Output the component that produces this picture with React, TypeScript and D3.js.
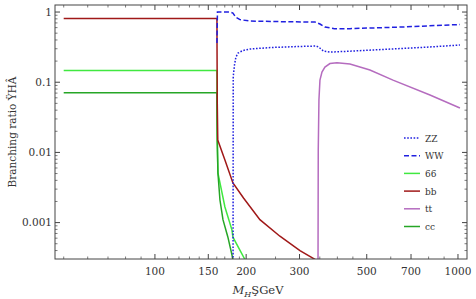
import React from 'react'
import * as d3 from 'd3'

// Higgs mass (GeV) and branching ratio pairs
const zzMass = [181, 181.3, 183, 185, 188, 195, 206, 240, 300, 340, 347, 360, 380, 450, 600, 800, 1015]
const zzBr = [0.0001, 0.12, 0.176, 0.228, 0.26, 0.283, 0.297, 0.312, 0.323, 0.328, 0.317, 0.278, 0.269, 0.278, 0.297, 0.317, 0.339]

const wwMass = [160.2, 160.8, 176.8, 180.9, 184.6, 190.8, 205.9, 258.5, 337.4, 350.4, 363.9, 391, 440, 643, 1015]
const wwBr = [0.362, 1.0, 1.0, 0.968, 0.85, 0.78, 0.744, 0.73, 0.72, 0.675, 0.61, 0.58, 0.58, 0.61, 0.664]

const ggMass = [50, 160.2, 160.3, 160.8, 161.4, 170.2, 179.5, 180.9, 198, 205]
const ggBr = [0.147, 0.147, 0.03, 0.012, 0.0051, 0.00167, 0.00079, 0.00062, 0.0003, 0.00025]

const bbMass = [50, 160.2, 160.3, 160.6, 161.2, 170.2, 180.9, 196, 222, 258.5, 301, 337, 345]
const bbBr = [0.81, 0.81, 0.3, 0.05, 0.015, 0.0078, 0.00367, 0.00224, 0.0011, 0.00064, 0.0004, 0.0003, 0.00025]

const ttMass = [345.1, 345.9, 347.7, 350.4, 355.8, 363.9, 378, 398.7, 440.1, 512.3, 610.3, 808.4, 1015]
const ttBr = [0.0001, 0.0108, 0.0558, 0.107, 0.1397, 0.1646, 0.1847, 0.1896, 0.1816, 0.149, 0.107, 0.0657, 0.0429]

const ccMass = [50, 160.2, 160.5, 161.4, 163.9, 167.7, 174.1, 180.9, 182]
const ccBr = [0.0709, 0.0709, 0.015, 0.0051, 0.0021, 0.0011, 0.00062, 0.0003, 0.00027]

const xTicks = [100, 150, 200, 300, 500, 700, 1000]
const xTickLabels = ['100', '150', '200', '300', '500', '700', '1000']
const xMinor = [50, 60, 70, 80, 90, 110, 120, 130, 140, 160, 170, 180, 190, 250, 350, 400, 450, 600, 800, 900]
const yTicks = [1, 0.1, 0.01, 0.001]
const yTickLabels = ['1', '0.1', '0.01', '0.001']

const seriesNames = ['ZZ', 'WW', '66', 'bb', 'tt', 'cc']
const seriesColors = ['#2020e0', '#2020e0', '#40e840', '#a01818', '#b56cbf', '#26a626']
const seriesDash = ['1.6,1.6', '5,2.5', '', '', '', '']

const W = 476
const H = 299
const left = 55, right = 467, top = 5, bottom = 259

export default function App() {
  const x = d3.scaleLog().domain([46.8, 1071]).range([left, right])
  const y = d3.scaleLog().domain([3.03e-4, 1.26]).range([bottom, top])

  const line = d3.line<[number, number]>()
    .x(d => x(d[0]))
    .y(d => y(d[1]))

  const series = [
    [zzMass, zzBr],
    [wwMass, wwBr],
    [ggMass, ggBr],
    [bbMass, bbBr],
    [ttMass, ttBr],
    [ccMass, ccBr],
  ].map(([m, b]) => m.map((v, i) => [v, b[i]] as [number, number]))

  // green and red first, the blue curves and tt over them
  const drawOrder = [2, 5, 3, 0, 1, 4]

  const yMinor: number[] = []
  for (let e = -4; e <= 0; e++) {
    for (let k = 2; k <= 9; k++) {
      const v = k * Math.pow(10, e)
      if (v > 3.03e-4 && v < 1.26) yMinor.push(v)
    }
  }

  const font = 'DejaVu Serif'
  const axisCol = '#444'

  return (
    <svg width={W} height={H} style={{ position: 'absolute', left: 0, top: 0, background: '#fff' }}>
      <defs>
        <clipPath id="plot">
          <rect x={left} y={top} width={right - left} height={bottom - top} />
        </clipPath>
      </defs>

      <g clipPath="url(#plot)">
        {drawOrder.map(i => (
          <path key={i} d={line(series[i]) || ''} fill="none" stroke={seriesColors[i]}
            strokeWidth={1.5} strokeDasharray={seriesDash[i] || undefined} />
        ))}
      </g>

      <rect x={left} y={top} width={right - left} height={bottom - top} fill="none" stroke={axisCol} strokeWidth={1} />

      {xTicks.map((t, i) => (
        <g key={'xt' + i}>
          <line x1={x(t)} x2={x(t)} y1={bottom} y2={bottom - 5} stroke={axisCol} />
          <line x1={x(t)} x2={x(t)} y1={top} y2={top + 5} stroke={axisCol} />
        </g>
      ))}
      <g fontFamily={font} fontSize={10.5} fill="#333" textAnchor="middle">
        {xTicks.map((t, i) => (
          <text key={'xl' + i} x={x(t)} y={bottom + 16}>{xTickLabels[i]}</text>
        ))}
      </g>
      {xMinor.map(t => (
        <g key={'xm' + t}>
          <line x1={x(t)} x2={x(t)} y1={bottom} y2={bottom - 2.5} stroke={axisCol} strokeWidth={0.7} />
          <line x1={x(t)} x2={x(t)} y1={top} y2={top + 2.5} stroke={axisCol} strokeWidth={0.7} />
        </g>
      ))}
      {yTicks.map((t, i) => (
        <g key={'yt' + i}>
          <line x1={left} x2={left + 5} y1={y(t)} y2={y(t)} stroke={axisCol} />
          <line x1={right} x2={right - 5} y1={y(t)} y2={y(t)} stroke={axisCol} />
          <text x={left - 3} y={y(t) + 3.5} textAnchor="end" fontFamily={font} fontSize={10.5} fill="#333">{yTickLabels[i]}</text>
        </g>
      ))}
      {yMinor.map((t, i) => (
        <g key={'ym' + i}>
          <line x1={left} x2={left + 2.5} y1={y(t)} y2={y(t)} stroke={axisCol} strokeWidth={0.7} />
          <line x1={right} x2={right - 2.5} y1={y(t)} y2={y(t)} stroke={axisCol} strokeWidth={0.7} />
        </g>
      ))}

      <text transform={`translate(16,132) rotate(-90)`} textAnchor="middle" fontFamily={font} fontSize={10.5} fill="#333">
        Branching ratio ŸHÂ
      </text>
      <text x={258} y={294} textAnchor="middle" fontFamily={font} fontSize={11.5} fill="#333">
        <tspan fontStyle="italic">M</tspan>
        <tspan fontStyle="italic" fontSize={8} dy={3}>H</tspan>
        <tspan dy={-3}>ŞGeV</tspan>
      </text>

      {seriesNames.map((n, i) => {
        const ly = 138 + i * 17.7
        return (
          <g key={n}>
            <line x1={404} x2={420} y1={ly} y2={ly} stroke={seriesColors[i]} strokeWidth={1.5}
              strokeDasharray={seriesDash[i] || undefined} />
            <text x={425} y={ly + 3.5} fontFamily={font} fontSize={9} fill="#333">{n}</text>
          </g>
        )
      })}
    </svg>
  )
}
